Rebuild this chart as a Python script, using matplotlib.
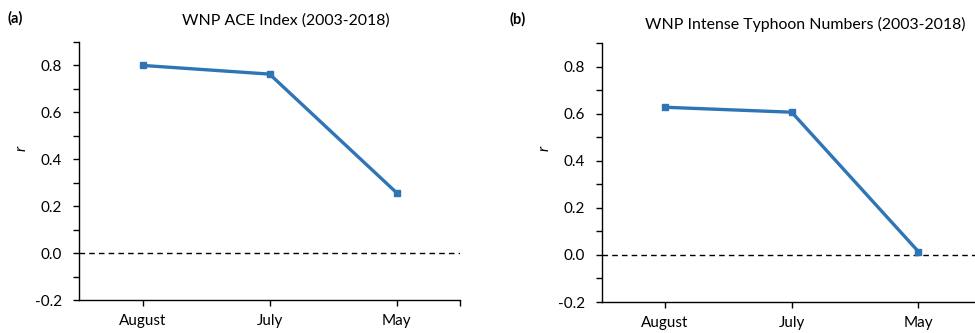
import matplotlib
matplotlib.use("Agg")
import matplotlib.pyplot as plt
from matplotlib.ticker import MultipleLocator, FormatStrFormatter

plt.rcParams["font.family"] = ["Lato", "DejaVu Sans"]
plt.rcParams["axes.unicode_minus"] = False

months = ["August", "July", "May"]
ace_r = [0.80, 0.763, 0.257]
typhoon_r = [0.627, 0.606, 0.014]

panels = [
    ("(a)", "WNP ACE Index (2003-2018)", ace_r),
    ("(b)", "WNP Intense Typhoon Numbers (2003-2018)", typhoon_r),
]

line_color = "#2E75B6"

fig = plt.figure(figsize=(9.75, 3.33), dpi=100)
ax_boxes = [
    [0.081, 0.099, 0.391, 0.775],
    [0.617, 0.093, 0.390, 0.778],
]
tag_pos = [(0.008, 0.945), (0.523, 0.943)]
title_pos = [(0.293, 0.938), (0.826, 0.928)]
ylabel_x = [0.022, 0.559]

for i, (tag, title, vals) in enumerate(panels):
    ax = fig.add_axes(ax_boxes[i])
    x = list(range(len(months)))
    ax.axhline(0, color="black", linestyle=(0, (4, 3)), linewidth=1.0, zorder=1)
    ax.plot(x, vals, color=line_color, linewidth=2.4, marker="s",
            markersize=3.8, zorder=3, clip_on=False)

    ax.set_xlim(-0.5, 2.5)
    ax.set_ylim(-0.2, 0.9)
    ax.set_xticks(x)
    ax.set_xticklabels(months, fontsize=11)
    ax.set_xticks([2.5], minor=True)
    ax.yaxis.set_major_locator(MultipleLocator(0.2))
    ax.yaxis.set_minor_locator(MultipleLocator(0.1))
    ax.yaxis.set_major_formatter(FormatStrFormatter("%.1f"))
    ax.tick_params(axis="y", which="both", length=4, width=1.0, labelsize=11, pad=8)
    ax.tick_params(axis="x", which="both", length=4, width=1.0, pad=6)

    for side in ("top", "right"):
        ax.spines[side].set_visible(False)
    for side in ("left", "bottom"):
        ax.spines[side].set_linewidth(1.0)

    fig.text(title_pos[i][0], title_pos[i][1], title, ha="center", va="center",
             fontsize=11.4)
    fig.text(tag_pos[i][0], tag_pos[i][1], tag, ha="left", va="center",
             fontsize=10.5, fontweight="bold")
    fig.text(ylabel_x[i], 0.555, "r", rotation=90, ha="center", va="center",
             fontsize=11, fontstyle="italic")

fig.savefig("out.png", dpi=100)
